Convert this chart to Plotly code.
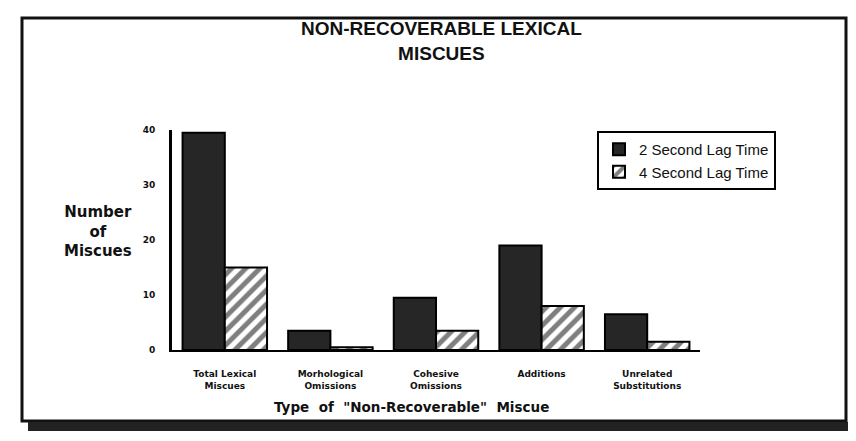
import plotly.graph_objects as go

categories = ["Total Lexical<br>Miscues", "Morhological<br>Omissions", "Cohesive<br>Omissions",
              "Additions", "Unrelated<br>Substitutions"]
lag2 = [39.5, 3.5, 9.5, 19, 6.5]
lag4 = [15, 0.5, 3.5, 8, 1.5]
series_names = ["2 Second Lag Time", "4 Second Lag Time"]
y_ticks = [0, 10, 20, 30, 40]

# page is offset by the default 8px body margin
OFF = 8
W, H = 856 - OFF, 441 - OFF
# plot area in page pixels: x 172..700, y 130..350
PL, PR, PT, PB = 172, 700, 130, 350
L, R, T, B = PL - OFF, W - (PR - OFF), PT - OFF, H - (PB - OFF)
PW, PH = PR - PL, PB - PT


def px(x):
    return (x - PL) / PW


def py(y):
    return (PB - y) / PH


fig = go.Figure()
fig.add_trace(go.Bar(
    x=categories, y=lag2, name=series_names[0],
    marker=dict(color="#262626", line=dict(color="black", width=2)),
))
fig.add_trace(go.Bar(
    x=categories, y=lag4, name=series_names[1],
    marker=dict(color="white", line=dict(color="black", width=2),
                pattern=dict(shape="/", fgcolor="black", bgcolor="white", size=10, solidity=0.5)),
))

shapes = [
    dict(type="rect", xref="paper", yref="paper", x0=px(22), x1=px(846), y0=py(18), y1=py(421),
         line=dict(color="#111", width=3), fillcolor="rgba(0,0,0,0)", layer="below"),
    dict(type="rect", xref="paper", yref="paper", x0=px(28), x1=px(856), y0=py(422), y1=py(431),
         line=dict(width=0), fillcolor="#222", layer="below"),
]

annotations = [
    dict(text="<b>NON-RECOVERABLE LEXICAL<br>MISCUES</b>", xref="paper", yref="paper",
         x=px(441), y=py(41), xanchor="center", yanchor="middle", showarrow=False,
         font=dict(family="Liberation Sans", size=19, color="#111")),
    dict(text="<b>Number<br>of<br>Miscues</b>", xref="paper", yref="paper",
         x=px(98), y=py(231), xanchor="center", yanchor="middle", showarrow=False,
         font=dict(family="DejaVu Sans", size=15, color="#111")),
    dict(text="<b>Type  of  \"Non-Recoverable\"  Miscue</b>", xref="paper", yref="paper",
         x=px(411), y=py(407), xanchor="center", yanchor="middle", showarrow=False,
         font=dict(family="DejaVu Sans", size=13.5, color="#111")),
]

fig.update_layout(
    width=W, height=H,
    margin=dict(l=L, r=R, t=T, b=B, pad=0),
    paper_bgcolor="white", plot_bgcolor="white",
    barmode="group", bargap=0.2, bargroupgap=0,
    showlegend=True,
    legend=dict(x=px(597), y=py(131), xanchor="left", yanchor="top",
                bordercolor="black", borderwidth=2, bgcolor="white",
                font=dict(family="Liberation Sans", size=15, color="#111"),
                tracegroupgap=4),
    shapes=shapes, annotations=annotations,
    font=dict(family="DejaVu Sans", color="#111"),
)
fig.update_xaxes(
    showline=True, linecolor="black", linewidth=2, showgrid=False, ticks="",
    tickfont=dict(family="DejaVu Sans", size=9, color="#111", weight="bold"),
    ticklabelstandoff=14, tickangle=0,
)
fig.update_yaxes(
    range=[0, 40], showline=True, linecolor="black", linewidth=3, showgrid=False,
    zeroline=False, tickvals=y_ticks, ticks="",
    tickfont=dict(family="DejaVu Sans", size=9, color="#111", weight="bold"),
    ticklabelstandoff=12,
)

fig.write_html("out.html")
